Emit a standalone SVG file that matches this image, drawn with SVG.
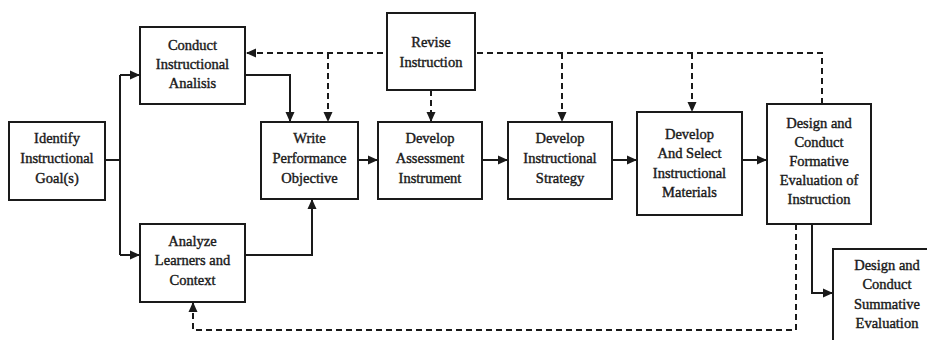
<svg xmlns="http://www.w3.org/2000/svg" width="927" height="340" viewBox="0 0 927 340">
<style>
.box{fill:#fff;stroke:#1a1a1a;stroke-width:2}
.t{font-family:"Liberation Serif","Times New Roman",serif;font-weight:normal;font-size:14.5px;fill:#1a1a1a;stroke:#1a1a1a;stroke-width:0.4;text-anchor:middle}
.c{fill:none;stroke:#1a1a1a;stroke-width:2}
.d{fill:none;stroke:#1a1a1a;stroke-width:2;stroke-dasharray:6 4}
</style>
<defs>
<marker id="ah" markerUnits="userSpaceOnUse" markerWidth="10" markerHeight="10" viewBox="0 0 10 10" refX="10" refY="5" orient="auto">
<path d="M0,0.5 L10,5 L0,9.5 z" fill="#1a1a1a"/>
</marker>
</defs>
<rect width="927" height="340" fill="#fff"/>
<g id="connectors">
<path class="c" d="M105,160 H120"/>
<path class="c" d="M120,75 V255"/>
<path class="c" d="M120,75 H140" marker-end="url(#ah)"/>
<path class="c" d="M120,255 H140" marker-end="url(#ah)"/>
<path class="c" d="M245,75 H290 V122" marker-end="url(#ah)"/>
<path class="c" d="M245,255 H312 V199" marker-end="url(#ah)"/>
<path class="c" d="M358,160 H378" marker-end="url(#ah)"/>
<path class="c" d="M482,160 H508" marker-end="url(#ah)"/>
<path class="c" d="M612,160 H637" marker-end="url(#ah)"/>
<path class="c" d="M742,160 H767" marker-end="url(#ah)"/>
<path class="c" d="M812,224 V293 H833" marker-end="url(#ah)"/>
<path class="d" d="M822,104 V53 H246" marker-end="url(#ah)"/>
<path class="d" d="M328,53 V122" marker-end="url(#ah)"/>
<path class="d" d="M431,90 V122" marker-end="url(#ah)"/>
<path class="d" d="M562,53 V122" marker-end="url(#ah)"/>
<path class="d" d="M692,53 V112" marker-end="url(#ah)"/>
<path class="d" d="M796,224 V330 H193 V302" marker-end="url(#ah)"/>
</g>
<g id="identify">
<rect class="box" x="9" y="122" width="96" height="78"/>
<text class="t" x="57" y="143">Identify</text>
<text class="t" x="57" y="163">Instructional</text>
<text class="t" x="57" y="183">Goal(s)</text>
</g>
<g id="conduct">
<rect class="box" x="140" y="27" width="105" height="77"/>
<text class="t" x="192.5" y="50">Conduct</text>
<text class="t" x="192.5" y="69">Instructional</text>
<text class="t" x="192.5" y="88">Analisis</text>
</g>
<g id="analyze">
<rect class="box" x="140" y="224" width="105" height="78"/>
<text class="t" x="192.5" y="246">Analyze</text>
<text class="t" x="192.5" y="265">Learners and</text>
<text class="t" x="192.5" y="285">Context</text>
</g>
<g id="write">
<rect class="box" x="261" y="122" width="97" height="77"/>
<text class="t" x="309.5" y="143">Write</text>
<text class="t" x="309.5" y="163">Performance</text>
<text class="t" x="309.5" y="183">Objective</text>
</g>
<g id="revise">
<rect class="box" x="387" y="13" width="88" height="77"/>
<text class="t" x="431" y="47">Revise</text>
<text class="t" x="431" y="67">Instruction</text>
</g>
<g id="assessment">
<rect class="box" x="378" y="122" width="104" height="77"/>
<text class="t" x="430" y="143">Develop</text>
<text class="t" x="430" y="163">Assessment</text>
<text class="t" x="430" y="183">Instrument</text>
</g>
<g id="strategy">
<rect class="box" x="508" y="122" width="104" height="77"/>
<text class="t" x="560" y="143">Develop</text>
<text class="t" x="560" y="163">Instructional</text>
<text class="t" x="560" y="183">Strategy</text>
</g>
<g id="materials">
<rect class="box" x="637" y="112" width="105" height="103"/>
<text class="t" x="689.5" y="139">Develop</text>
<text class="t" x="689.5" y="158">And Select</text>
<text class="t" x="689.5" y="178">Instructional</text>
<text class="t" x="689.5" y="197">Materials</text>
</g>
<g id="formative">
<rect class="box" x="767" y="104" width="104" height="120"/>
<text class="t" x="819" y="128">Design and</text>
<text class="t" x="819" y="147">Conduct</text>
<text class="t" x="819" y="166">Formative</text>
<text class="t" x="819" y="185">Evaluation of</text>
<text class="t" x="819" y="204">Instruction</text>
</g>
<g id="summative">
<rect class="box" x="833" y="249" width="104" height="100"/>
<text class="t" x="887" y="270">Design and</text>
<text class="t" x="887" y="289">Conduct</text>
<text class="t" x="887" y="309">Summative</text>
<text class="t" x="887" y="328">Evaluation</text>
</g>
</svg>
